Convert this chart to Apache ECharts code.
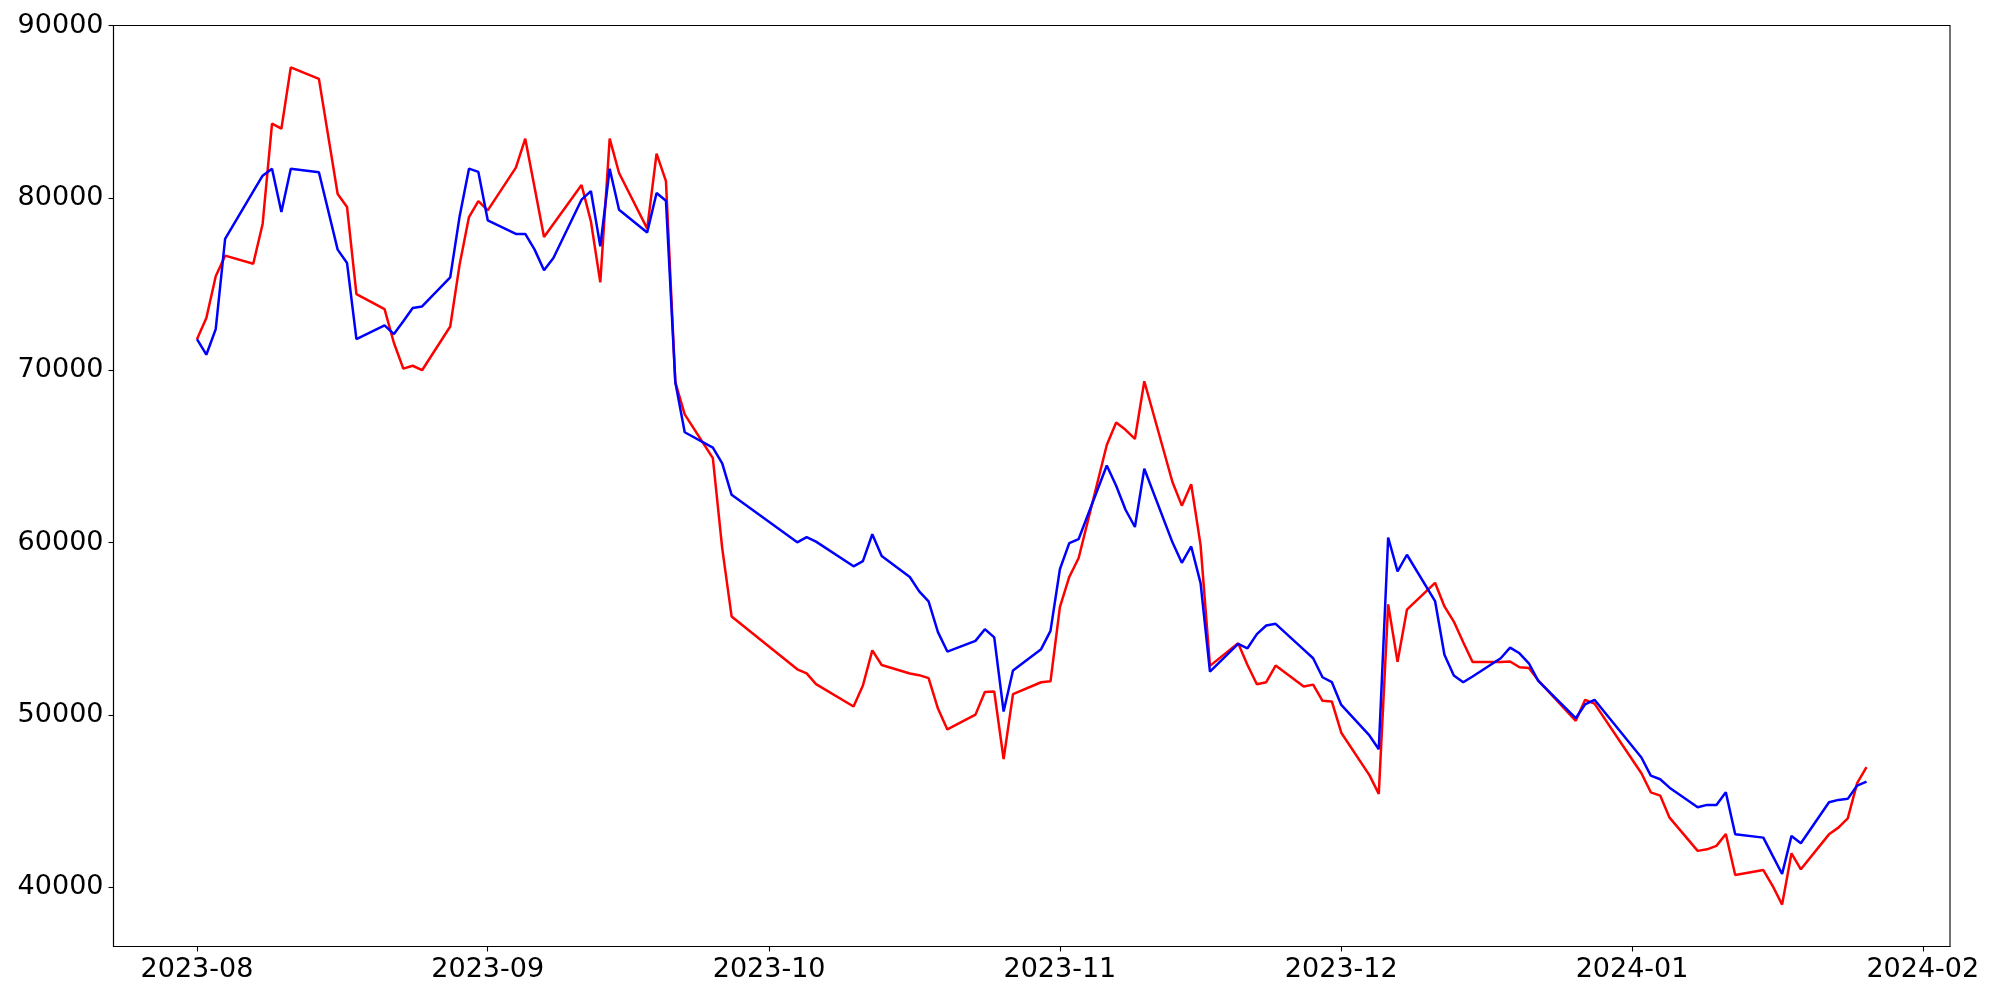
<!DOCTYPE html>
<html>
<head>
<meta charset="utf-8">
<script src="https://cdn.jsdelivr.net/npm/echarts@6/dist/echarts.min.js"></script>
<style>
html,body{margin:0;padding:0;background:#fff;}
#chart{width:2000px;height:1000px;}
</style>
</head>
<body>
<div id="chart"></div>
<script>
const dates = [
'2023-08-01','2023-08-02','2023-08-03','2023-08-04','2023-08-07','2023-08-08','2023-08-09','2023-08-10','2023-08-11','2023-08-14','2023-08-16','2023-08-17','2023-08-18','2023-08-21','2023-08-22','2023-08-23','2023-08-24','2023-08-25','2023-08-28','2023-08-29','2023-08-30','2023-08-31',
'2023-09-01','2023-09-04','2023-09-05','2023-09-06','2023-09-07','2023-09-08','2023-09-11','2023-09-12','2023-09-13','2023-09-14','2023-09-15','2023-09-18','2023-09-19','2023-09-20','2023-09-21','2023-09-22','2023-09-25','2023-09-26','2023-09-27',
'2023-10-04','2023-10-05','2023-10-06','2023-10-10','2023-10-11','2023-10-12','2023-10-13','2023-10-16','2023-10-17','2023-10-18','2023-10-19','2023-10-20','2023-10-23','2023-10-24','2023-10-25','2023-10-26','2023-10-27','2023-10-30','2023-10-31',
'2023-11-01','2023-11-02','2023-11-03','2023-11-06','2023-11-07','2023-11-08','2023-11-09','2023-11-10','2023-11-13','2023-11-14','2023-11-15','2023-11-16','2023-11-17','2023-11-20','2023-11-21','2023-11-22','2023-11-23','2023-11-24','2023-11-27','2023-11-28','2023-11-29','2023-11-30',
'2023-12-01','2023-12-04','2023-12-05','2023-12-06','2023-12-07','2023-12-08','2023-12-11','2023-12-12','2023-12-13','2023-12-14','2023-12-15','2023-12-18','2023-12-19','2023-12-20','2023-12-21','2023-12-22','2023-12-26','2023-12-27','2023-12-28',
'2024-01-02','2024-01-03','2024-01-04','2024-01-05','2024-01-08','2024-01-09','2024-01-10','2024-01-11','2024-01-12','2024-01-15','2024-01-16','2024-01-17','2024-01-18','2024-01-19','2024-01-22','2024-01-23','2024-01-24','2024-01-25','2024-01-26'
];

const redValues = [
71800,73030,75450,76650,76180,78490,84310,84020,87580,86910,80230,79470,74420,73550,71580,70090,70260,70000,72540,76130,78890,79820,
79280,81760,83440,80590,77730,78490,80750,78640,75100,83440,81450,78220,82570,80980,69300,67440,64900,59660,55710,
52640,52400,51780,50480,51700,53740,52890,52400,52300,52130,50360,49150,50010,51320,51350,47430,51200,51890,51940,
56250,58000,59100,65660,66960,66540,66010,69360,63510,62140,63380,59850,52840,54160,52890,51770,51890,52860,51640,51750,50810,50770,
48960,46500,45410,56410,53070,56100,57660,56290,55410,54210,53060,53060,53090,52760,52720,52000,49650,50870,50650,
46610,45500,45310,44030,42100,42190,42390,43080,40700,40990,40060,38980,41960,41030,43060,43450,43990,46030,46960
];

const blueValues = [
71800,70900,72390,77620,80380,81290,81700,79180,81700,81490,77000,76220,71810,72600,72100,72840,73610,73700,75390,78930,81700,81510,
78700,77910,77910,77000,75800,76510,79900,80400,77190,81700,79320,78000,80290,79840,69300,66400,65510,64590,62770,
60010,60310,60050,58620,58920,60480,59210,58000,57160,56580,54800,53670,54290,54970,54490,50190,52570,53810,54870,
58450,59960,60200,64470,63290,61900,60900,64280,60010,58820,59770,57640,52510,54120,53860,54680,55180,55280,53780,53280,52180,51890,
50570,48800,48000,60290,58320,59290,56600,53480,52280,51890,52220,53280,53900,53570,52990,51970,49800,50610,50870,
47520,46470,46260,45770,44630,44770,44770,45500,43060,42870,41810,40760,42970,42540,44920,45060,45120,45890,46120
];

const yTickValues = [40000, 50000, 60000, 70000, 80000, 90000];
const xTickLabels = ['2023-08', '2023-09', '2023-10', '2023-11', '2023-12', '2024-01', '2024-02'];

function ts(s) {
  const p = s.split('-').map(Number);
  return Date.UTC(p[0], p[1] - 1, p[2] || 1);
}
const xs = dates.map(ts);
const xTickValues = xTickLabels.map(ts);
const redData = xs.map((t, i) => [t, redValues[i]]);
const blueData = xs.map((t, i) => [t, blueValues[i]]);

const xSpan = xs[xs.length - 1] - xs[0];
const xMin = xs[0] - 0.05 * xSpan;
const xMax = xs[xs.length - 1] + 0.05 * xSpan;
const all = redValues.concat(blueValues);
const dMin = Math.min(...all), dMax = Math.max(...all);
const ySpan = dMax - dMin;
const yMin = dMin - 0.05 * ySpan;
const yMax = dMax + 0.05 * ySpan;

function fmtMonth(v) {
  const i = xTickValues.indexOf(v);
  if (i >= 0) return xTickLabels[i];
  const d = new Date(v);
  const m = d.getUTCMonth() + 1;
  return d.getUTCFullYear() + '-' + (m < 10 ? '0' + m : m);
}

const font = 'DejaVu Sans';
const chart = echarts.init(document.getElementById('chart'), null, {renderer: 'canvas'});
chart.setOption({
  animation: false,
  backgroundColor: '#ffffff',
  grid: {
    left: 113.5, right: 50, top: 25.5, bottom: 53.5,
    show: true, borderColor: '#000', borderWidth: 1.1, backgroundColor: 'transparent',
    containLabel: false
  },
  xAxis: {
    type: 'value',
    min: xMin, max: xMax,
    scale: true,
    axisLine: {show: true, lineStyle: {color: '#000', width: 1.1}},
    axisTick: {show: true, inside: false, length: 5, lineStyle: {color: '#000', width: 1.1}, customValues: xTickValues},
    axisLabel: {show: true, customValues: xTickValues, formatter: fmtMonth, color: '#000', fontFamily: font, fontSize: 27, margin: 10, showMinLabel: true, showMaxLabel: true},
    splitLine: {show: false}
  },
  yAxis: {
    type: 'value',
    min: yMin, max: yMax,
    scale: true,
    axisLine: {show: true, lineStyle: {color: '#000', width: 1.1}},
    axisTick: {show: true, inside: false, length: 5, lineStyle: {color: '#000', width: 1.1}, customValues: yTickValues},
    axisLabel: {show: true, customValues: yTickValues, formatter: function (v) { return String(Math.round(v)); }, color: '#000', fontFamily: font, fontSize: 27, margin: 10},
    splitLine: {show: false}
  },
  series: [
    {type: 'line', data: redData, showSymbol: false, symbol: 'none', lineStyle: {color: '#ff0000', width: 2.5}, itemStyle: {color: '#ff0000'}, z: 2},
    {type: 'line', data: blueData, showSymbol: false, symbol: 'none', lineStyle: {color: '#0000ff', width: 2.5}, itemStyle: {color: '#0000ff'}, z: 3}
  ]
});
</script>
</body>
</html>
